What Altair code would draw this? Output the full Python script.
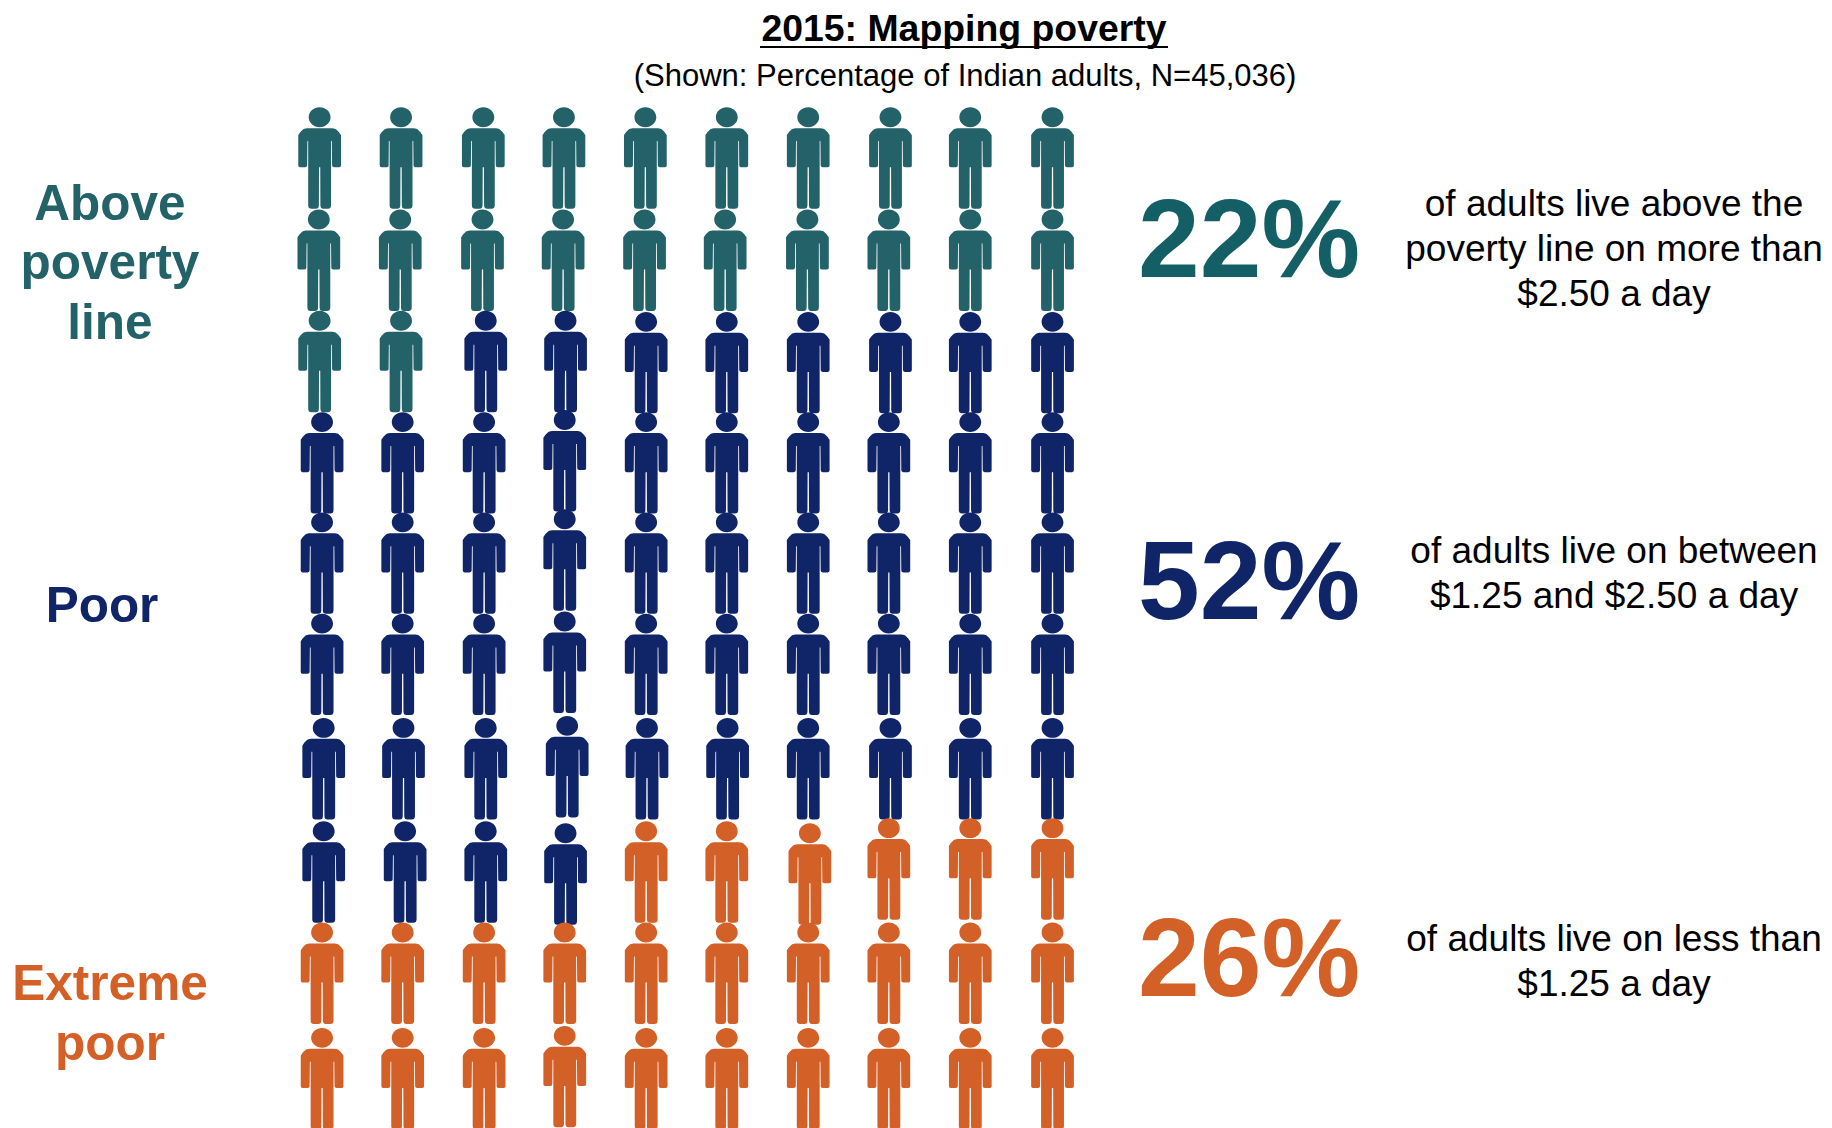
import altair as alt
import pandas as pd

# --- values ---
group_names = ["Above poverty line", "Poor", "Extreme poor"]
group_counts = [22, 52, 26]
group_colors = ["#24626A", "#0F2567", "#D26027"]

# horizontal place of each figure, in column units, one list per row
col_pos = [
    [0.00, 1.00, 2.01, 3.00, 4.00, 5.00, 6.00, 7.01, 7.99, 9.00],
    [-0.01, 0.99, 2.00, 2.99, 3.99, 4.98, 5.99, 6.99, 7.99, 9.00],
    [0.00, 1.00, 2.04, 3.02, 4.01, 5.00, 6.00, 7.01, 7.99, 9.00],
    [0.03, 1.02, 2.02, 3.01, 4.01, 5.00, 6.00, 6.99, 7.99, 9.00],
    [0.03, 1.02, 2.02, 3.01, 4.01, 5.00, 6.00, 6.99, 7.99, 9.00],
    [0.03, 1.02, 2.02, 3.01, 4.01, 5.00, 6.00, 6.99, 7.99, 9.00],
    [0.05, 1.03, 2.04, 3.04, 4.02, 5.01, 6.00, 7.01, 7.99, 9.00],
    [0.05, 1.05, 2.04, 3.02, 4.01, 5.00, 6.02, 6.99, 7.99, 9.00],
    [0.03, 1.02, 2.02, 3.01, 4.01, 5.00, 6.00, 6.99, 7.99, 9.00],
    [0.03, 1.02, 2.02, 3.01, 4.01, 5.00, 6.00, 6.99, 7.99, 9.00],
]
# vertical place of each figure, in row units, one list per row
row_pos = [
    [0.00] * 10,
    [1.00] * 10,
    [1.99, 1.99, 1.99, 1.99, 2.00, 2.00, 2.00, 2.00, 2.00, 2.00],
    [2.98, 2.98, 2.98, 2.96, 2.98, 2.98, 2.98, 2.98, 2.98, 2.98],
    [3.96, 3.96, 3.96, 3.93, 3.96, 3.96, 3.96, 3.96, 3.96, 3.96],
    [4.95, 4.95, 4.95, 4.93, 4.95, 4.95, 4.95, 4.95, 4.95, 4.95],
    [5.97, 5.97, 5.97, 5.95, 5.97, 5.97, 5.97, 5.97, 5.97, 5.97],
    [6.98, 6.98, 6.98, 7.00, 6.98, 6.98, 7.00, 6.95, 6.95, 6.95],
    [7.97] * 10,
    [9.00, 9.00, 9.00, 8.98, 9.00, 9.00, 9.00, 9.00, 9.00, 9.00],
]

title_text = "2015: Mapping poverty"
subtitle_text = "(Shown: Percentage of Indian adults, N=45,036)"
left_labels = [["Above", "poverty", "line"], ["Poor"], ["Extreme", "poor"]]
percents = ["22%", "52%", "26%"]
descriptions = [
    ["of adults live above the", "poverty line on more than", "$2.50 a day"],
    ["of adults live on between", "$1.25 and $2.50 a day"],
    ["of adults live on less than", "$1.25 a day"],
]

FONT = "Liberation Sans"
W, H = 1816, 1120

# one figure, drawn in a box running from -1 to 1 in height
PERSON = (
    "M0,-0.995 C0.115,-0.995 0.215,-0.91 0.215,-0.8 C0.215,-0.69 0.115,-0.605 0,-0.605 "
    "C-0.115,-0.605 -0.215,-0.69 -0.215,-0.8 C-0.215,-0.91 -0.115,-0.995 0,-0.995 Z "
    "M-0.25,-0.585 L0.25,-0.585 C0.32,-0.585 0.37,-0.53 0.42,-0.45 L0.42,0.15 "
    "Q0.42,0.185 0.385,0.185 L0.285,0.185 Q0.245,0.185 0.245,0.15 L0.24,-0.33 L0.225,-0.33 "
    "L0.225,0.93 Q0.225,1 0.16,1 L0.075,1 Q0.015,1 0.015,0.93 L0.012,0.185 L-0.012,0.185 "
    "L-0.015,0.93 Q-0.015,1 -0.075,1 L-0.16,1 Q-0.225,1 -0.225,0.93 L-0.225,-0.33 L-0.24,-0.33 "
    "L-0.245,0.15 Q-0.245,0.185 -0.285,0.185 L-0.385,0.185 Q-0.42,0.185 -0.42,0.15 L-0.42,-0.45 "
    "C-0.37,-0.53 -0.32,-0.585 -0.25,-0.585 Z"
)

flat_groups = [n for n, c in zip(group_names, group_counts) for _ in range(c)]
people = pd.DataFrame(
    {
        "col": [v for row in col_pos for v in row],
        "row": [v for row in row_pos for v in row],
        "group": flat_groups,
    }
)

figures = (
    alt.Chart(people)
    .mark_point(shape=PERSON, filled=True, size=10343, opacity=1, strokeWidth=0)
    .encode(
        x=alt.X("col:Q", axis=None, scale=alt.Scale(domain=[-3.827, 18.474], nice=False, zero=False)),
        y=alt.Y("row:Q", axis=None, scale=alt.Scale(domain=[9.4834, -1.4653], nice=False, zero=False)),
        color=alt.Color(
            "group:N",
            legend=None,
            scale=alt.Scale(domain=group_names, range=group_colors),
        ),
    )
)


def label(text, x, y, size, color, bold=False):
    return (
        alt.Chart(pd.DataFrame({"t": [text]}))
        .mark_text(
            font=FONT,
            fontSize=size,
            fontWeight="bold" if bold else "normal",
            color=color,
            align="center",
            baseline="alphabetic",
        )
        .encode(x=alt.value(x - 8), y=alt.value(y - 8), text="t:N")
    )


layers = [figures]
layers.append(label(title_text, 964, 41, 37.4, "#000000", True))
layers.append(label(subtitle_text, 965, 86, 31, "#000000"))
layers.append(
    alt.Chart(pd.DataFrame({"t": [title_text]}))
    .mark_rule(color="#000000", strokeWidth=2)
    .encode(x=alt.value(760 - 8), x2=alt.value(1168 - 8), y=alt.value(47 - 8))
)

left_specs = [
    (110, [220, 279, 339], 0),
    (102, [622], 1),
    (110, [1000, 1060], 2),
]
for (cx, ys, g), lines in zip(left_specs, left_labels):
    for y, line in zip(ys, lines):
        layers.append(label(line, cx, y, 49.5, group_colors[g], True))

pct_colors = ["#145F66", group_colors[1], group_colors[2]]
for txt, y, col in zip(percents, [277, 619, 996], pct_colors):
    layers.append(label(txt, 1249, y, 111, col, True))

desc_specs = [(1614, [216, 261, 306]), (1614, [563, 608]), (1614, [951, 996])]
for (cx, ys), lines in zip(desc_specs, descriptions):
    for y, line in zip(ys, lines):
        layers.append(label(line, cx, y, 37, "#000000"))

chart = (
    alt.layer(*layers)
    .properties(
        width=W,
        height=H,
        padding=0,
        autosize=alt.AutoSizeParams(type="none"),
        background="#FFFFFF",
    )
    .configure_view(stroke=None)
)

chart.save("out.html", embed_options={"renderer": "svg", "actions": False})
